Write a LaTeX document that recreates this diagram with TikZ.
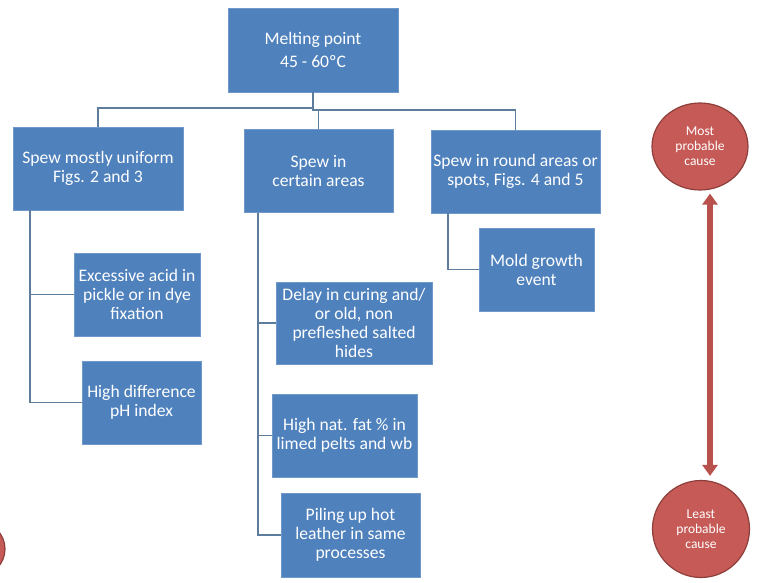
\documentclass[tikz,border=0pt]{standalone}
\usepackage{fontspec}
\setmainfont{Carlito}
\usetikzlibrary{arrows.meta,calc,shapes.geometric}
\definecolor{boxblue}{HTML}{4F81BD}
\definecolor{boxedge}{HTML}{6F98CB}
\definecolor{linecol}{HTML}{5E7C9C}
\definecolor{redfill}{HTML}{C65A56}
\definecolor{rededge}{HTML}{8E3E3B}
\definecolor{arrowred}{HTML}{B8504C}
\tikzset{
  box/.style={rectangle, fill=boxblue, draw=boxedge, line width=0.8pt, text=white,
    align=center, inner sep=0pt, font=\fontsize{17.6}{19}\selectfont},
  conn/.style={draw=linecol, line width=1.8pt},
  cause/.style={ellipse, fill=redfill, draw=rededge, line width=1.2pt, text=white,
    align=center, inner sep=0pt, font=\fontsize{13.5}{15}\selectfont},
}
\begin{document}
\begin{tikzpicture}[x=1pt,y=-1pt]
\useasboundingbox (0,0) rectangle (772,583);
\fill[white] (0,0) rectangle (772,583);

\node[box, minimum width=170pt, minimum height=84pt, font=\fontsize{17.6}{23}\selectfont] (top) at (313,50) {Melting point\\45 - 60ºC};

\node[box, minimum width=170pt, minimum height=83pt] (A) at (98,168.5) {Spew mostly uniform\\Figs. 2 and 3};
\node[box, minimum width=149pt, minimum height=83pt] (B) at (318.5,171) {Spew in\\certain areas};
\node[box, minimum width=169pt, minimum height=83pt] (C) at (515.5,171.5) {Spew in round areas or\\spots, Figs. 4 and 5};

\node[box, minimum width=126pt, minimum height=83pt] (A1) at (137,294.5) {Excessive acid in\\pickle or in dye\\fixation};
\node[box, minimum width=119pt, minimum height=83pt] (A2) at (141.5,402.5) {High difference\\pH index};

\node[box, minimum width=156pt, minimum height=82pt] (B1) at (354,323) {Delay in curing and/\\or old, non\\prefleshed salted\\hides};
\node[box, minimum width=145pt, minimum height=83pt] (B2) at (344.5,435.5) {High nat. fat \% in\\limed pelts and wb};
\node[box, minimum width=139pt, minimum height=84pt] (B3) at (350.5,535) {Piling up hot\\leather in same\\processes};

\node[box, minimum width=115pt, minimum height=83pt] (C1) at (536.5,269.5) {Mold growth\\event};

% connectors
\draw[conn] (top.south) -- (top.south |- 0,108) -| (A.north);
\draw[conn] (top.south |- 0,108) -- (top.south |- 0,110) -| (B.north);
\draw[conn] (top.south |- 0,110) -| (C.north);

\coordinate (Aj) at (A.south -| 30,0);
\draw[conn] (Aj) |- (A1.west);
\draw[conn] (Aj) |- (A2.west);

\coordinate (Bj) at (B.south -| 258,0);
\draw[conn] (Bj) |- (B1.west);
\draw[conn] (Bj) |- (B2.west);
\draw[conn] (Bj) |- (B3.west);

\coordinate (Cj) at (C.south -| 448,0);
\draw[conn] (Cj) |- (C1.west);

% probability scale
\node[cause, minimum width=96pt, minimum height=87pt] (most) at (700,146.5) {Most\\probable\\cause};
\node[cause, minimum width=97pt, minimum height=97pt] (least) at (701,529) {Least\\probable\\cause};
\draw[arrowred, line width=6.5pt, {Triangle[length=11pt,width=15pt]}-{Triangle[length=11pt,width=15pt]}, shorten <=3pt, shorten >=4pt]
  ($(most.south)+(10,0)$) -- ($(least.north)+(9,0)$);

% partial circle at left edge
\node[circle, fill=redfill, draw=rededge, line width=1.2pt, minimum size=54pt] (edgecirc) at (-22,549) {};
\end{tikzpicture}
\end{document}
